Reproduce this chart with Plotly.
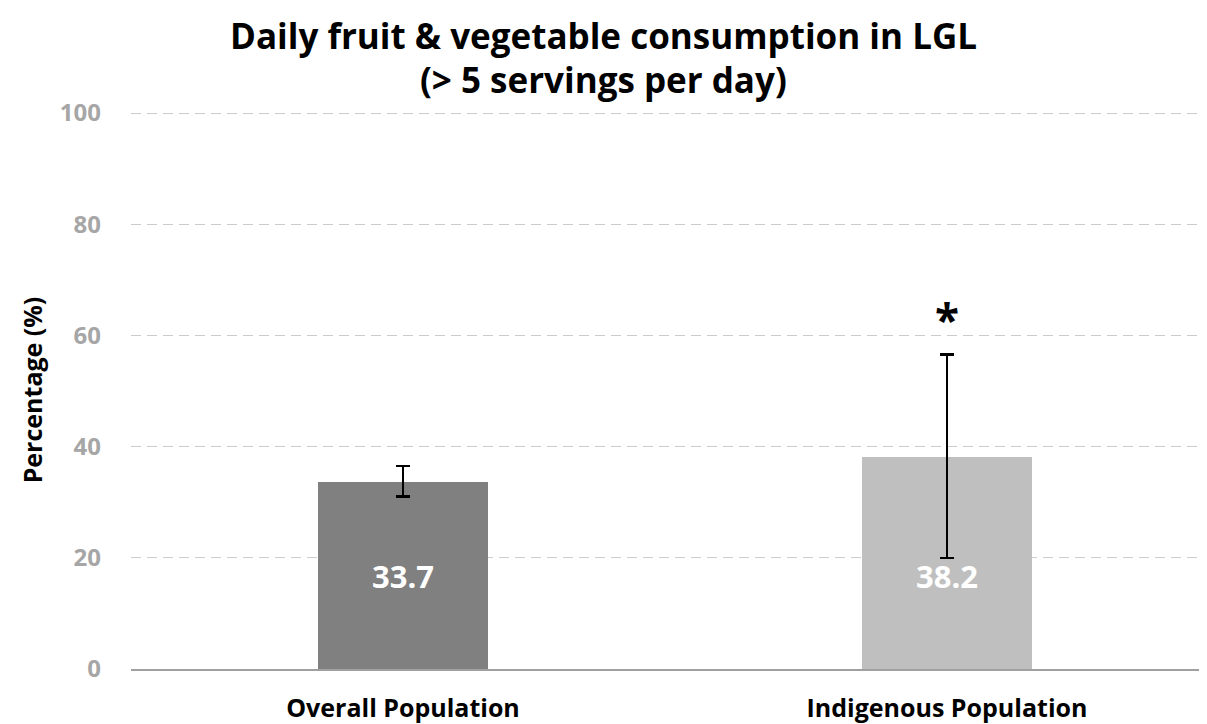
import plotly.graph_objects as go

categories = ["Overall Population", "Indigenous Population"]
values = [33.7, 38.2]
ci_upper = [36.5, 56.6]
ci_lower = [31.0, 20.0]
bar_colors = ["#808080", "#bfbfbf"]
significance = ["", "*"]
y_ticks = [0, 20, 40, 60, 80, 100]
title_lines = ["Daily fruit & vegetable consumption in LGL", "(> 5 servings per day)"]

xpos = list(range(len(categories)))
err_plus = [u - v for u, v in zip(ci_upper, values)]
err_minus = [v - l for v, l in zip(values, ci_lower)]

FONT = "Open Sans"
PLOT_H = 716 - 103 - 55

fig = go.Figure()
fig.add_trace(go.Bar(
    x=xpos, y=values, width=0.3125,
    marker=dict(color=bar_colors, line=dict(width=0)),
    error_y=dict(type="data", symmetric=False, array=err_plus, arrayminus=err_minus,
                 color="black", thickness=2.4, width=7),
    showlegend=False, hoverinfo="skip",
))

annotations = []
for i, v in enumerate(values):
    annotations.append(dict(x=i, y=16.7, xref="x", yref="y", text=f"<b>{v:.1f}</b>",
                            showarrow=False, font=dict(family=FONT, size=31, color="white")))
for i, s in enumerate(significance):
    if s:
        annotations.append(dict(x=i, y=ci_upper[i] + 6.4, xref="x", yref="y", text=f"<b>{s}</b>",
                                showarrow=False, font=dict(family=FONT, size=44, color="black")))
title_x = (603 - 8 - 123) / 1076
for line, ypix in zip(title_lines, [35, 80]):
    yp = (661 - (ypix - 8)) / PLOT_H
    annotations.append(dict(x=title_x, y=yp, xref="paper", yref="paper", text=f"<b>{line}</b>",
                            xanchor="center", yanchor="middle", showarrow=False,
                            font=dict(family=FONT, size=35, color="black")))

fig.update_layout(
    width=1199, height=716,
    margin=dict(l=123, r=0, t=103, b=55, autoexpand=False),
    paper_bgcolor="white", plot_bgcolor="white",
    xaxis=dict(range=[-0.5, 1.478], tickmode="array", tickvals=xpos,
               ticktext=[f"<b>{c}</b>" for c in categories],
               tickfont=dict(family=FONT, size=25, color="black"),
               showline=True, linecolor="#a0a0a0", linewidth=1.5, showgrid=False,
               ticks="", ticklabelstandoff=16, automargin=False),
    yaxis=dict(range=[0, PLOT_H / 5.56], tickmode="array", tickvals=y_ticks,
               ticktext=[f"<b>{t}</b>" for t in y_ticks],
               tickfont=dict(family=FONT, size=24, color="#a6a6a6"),
               showgrid=True, gridcolor="#cccccc", griddash="10px,6px", gridwidth=1,
               zeroline=False, ticks="", ticklabelstandoff=29, automargin=False,
               title=dict(text="<b>Percentage (%)</b>", font=dict(family=FONT, size=25, color="black"),
                          standoff=10)),
    annotations=annotations,
    bargap=0,
)

fig.write_html("out.html")
